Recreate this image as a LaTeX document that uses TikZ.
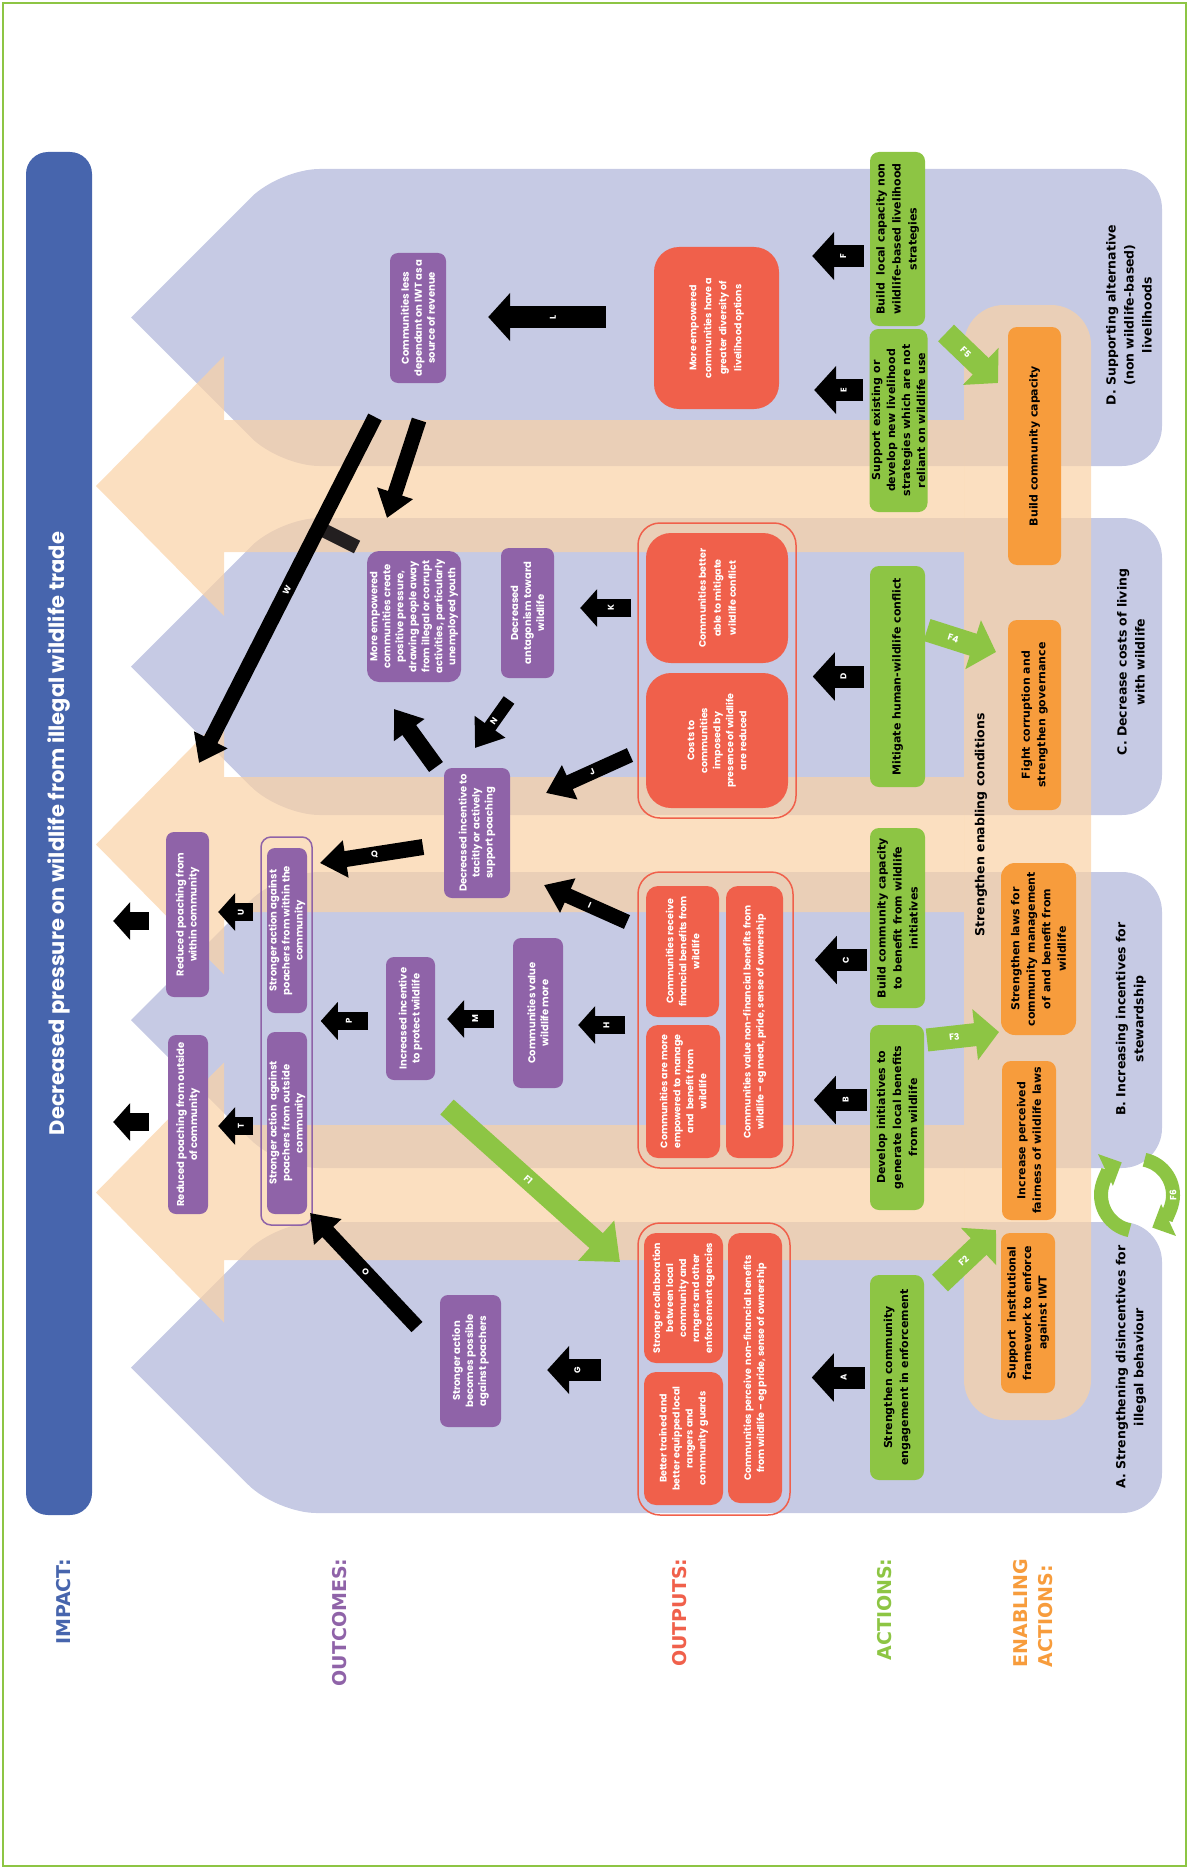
\documentclass[tikz,border=0pt]{standalone}
\usepackage{fontspec}
\setmainfont{Poppins}
\newfontfamily\djv{DejaVu Sans}
\usetikzlibrary{arrows.meta,calc}
\definecolor{bl}{RGB}{71,101,173}
\definecolor{oc}{RGB}{143,99,168}
\definecolor{op}{RGB}{240,96,75}
\definecolor{ac}{RGB}{141,197,68}
\definecolor{en}{RGB}{247,156,60}
\definecolor{lav}{RGB}{198,202,228}
\definecolor{pch}{RGB}{250,210,165}
\definecolor{tbar}{RGB}{35,31,32}
\begin{document}
\begin{tikzpicture}[x=1pt,y=-1pt,
  ocbox/.style={rotate=90, fill=oc, rounded corners=8pt, align=center, text=white, inner sep=1pt, font=\bfseries\fontsize{10}{13}\selectfont},
  opbox/.style={rotate=90, fill=op, rounded corners=12pt, align=center, text=white, inner sep=1pt, font=\bfseries\fontsize{9.5}{13}\selectfont},
  acbox/.style={rotate=90, fill=ac, rounded corners=9pt, align=center, inner sep=1pt, font=\djv\bfseries\fontsize{11}{16}\selectfont},
  enbox/.style={rotate=90, fill=en, rounded corners=9pt, align=center, inner sep=1pt, font=\djv\bfseries\fontsize{11}{15.5}\selectfont},
  grp/.style={rounded corners=22pt, line width=1.5pt},
  strat/.style={rotate=90, align=center, font=\djv\bfseries\fontsize{12.5}{18}\selectfont},
  collab/.style={rotate=90, anchor=east, align=left, font=\djv\bfseries\fontsize{19}{25}\selectfont},
  bigarr/.style={line width=22pt, -{Triangle[width=47pt,length=22pt]}},
  smlarr/.style={line width=18pt, -{Triangle[width=37pt,length=17pt]}},
  diagarr/.style={line width=15pt, -{Triangle[width=36pt,length=26pt]}},
  grnarr/.style={ac, line width=23pt, -{Triangle[width=50pt,length=24pt]}},
  lbl/.style={text=white, font=\bfseries\fontsize{8.5}{8.5}\selectfont, inner sep=0pt},
  glbl/.style={lbl, sloped, font=\bfseries\fontsize{9}{9}\selectfont}]
\useasboundingbox (0,0) rectangle (1189,1870);
\draw[ac, line width=2.5pt] (3,3) rectangle (1186,1866);
\foreach \t/\b in {169/466, 518/815, 872/1168, 1222/1513}{
  \pgfmathsetmacro\c{(\t+\b)/2}
  \pgfmathsetmacro\k{131+(\b-\t)/2}
  \fill[lav] (131,\c) [rounded corners=40pt] -- (\k,\t) -- (1162,\t) -- (1162,\b) -- (\k,\b) [sharp corners] -- cycle;
}
\begin{scope}[fill opacity=0.7]
\foreach \t/\b in {420/552, 777/912, 1125/1260}{
  \pgfmathsetmacro\c{(\t+\b)/2}
  \fill[pch] (96,\c) -- (224,\c-130) -- (224,\t) -- (964,\t) -- (964,\b) -- (224,\b) -- (224,\c+130) -- cycle;
}
\fill[pch, rounded corners=40pt] (964,305) rectangle (1091,1420);
\end{scope}
\node[fill=bl, rotate=90, rounded corners=22pt, minimum width=1363pt, minimum height=66pt, text=white, font=\bfseries\fontsize{21}{21}\selectfont] (impact) at (59,833.5) {Decreased pressure on wildlife from illegal wildlife trade};
\node[collab, text=bl] (lab-imp) at (64,1555) {IMPACT:};
\node[collab, text=oc] (lab-oc) at (340,1555) {OUTCOMES:};
\node[collab, text=op] (lab-op) at (680,1555) {OUTPUTS:};
\node[collab, text=ac] (lab-ac) at (885,1555) {ACTIONS:};
\node[collab, text=en] (lab-en) at (1033.5,1555) {ENABLING\\ACTIONS:};

\node[ocbox, minimum width=130pt, minimum height=56pt] (oc-rev) at (418,318) {Communities less\\dependant on IWT as a\\source of revenue};
\node[ocbox, rounded corners=12pt, minimum width=131pt, minimum height=94pt] (oc-emp) at (414,616.5) {More empowered\\communities create\\positive pressure,\\drawing people away\\from illegal or corrupt\\activities, particularly\\unemployed youth};
\node[ocbox, minimum width=130pt, minimum height=53pt] (oc-ant) at (527.5,613) {Decreased\\antagonism toward\\wildlife};
\node[ocbox, minimum width=130pt, minimum height=66pt] (oc-inc) at (477,833) {Decreased incentive to\\tacitly or actively\\support poaching};
\node[ocbox, minimum width=165pt, minimum height=43pt] (oc-within) at (187.5,914.5) {Reduced poaching from\\within community};
\node[ocbox, minimum width=179pt, minimum height=40pt] (oc-outside) at (188,1124.5) {Reduced poaching from outside\\of community};
\node[draw=oc, grp, rounded corners=10pt, minimum width=51pt, minimum height=388pt] (grp-act) at (286.5,1031) {};
\node[ocbox, minimum width=165pt, minimum height=40pt] (oc-act-in) at (287,930.5) {Stronger action against\\poachers from within the\\community};
\node[ocbox, minimum width=182pt, minimum height=40pt] (oc-act-out) at (287,1123) {Stronger action\ \ against\\poachers from outside\\community};
\node[ocbox, minimum width=123pt, minimum height=49pt] (oc-protect) at (410.5,1018.5) {Increased incentive\\to protect wildlife};
\node[ocbox, minimum width=150pt, minimum height=50pt] (oc-value) at (538,1013) {Communities value\\wildlife more};
\node[ocbox, minimum width=132pt, minimum height=61pt] (oc-possible) at (470.5,1361) {Stronger action\\becomes possible\\against poachers};

\node[opbox, rounded corners=25pt, minimum width=162pt, minimum height=125pt, font=\bfseries\fontsize{9.5}{15}\selectfont] (op-div) at (716.5,328) {More empowered\\communities have a\\greater diversity of\\livelihood options};
\node[draw=op, grp, minimum width=158pt, minimum height=295pt] (grp-c) at (717,670.5) {};
\node[opbox, rounded corners=25pt, minimum width=130pt, minimum height=142pt, font=\bfseries\fontsize{9.5}{15}\selectfont] (op-mit) at (717,598) {Communities better\\able to mitigate\\wildlife conflict};
\node[opbox, rounded corners=25pt, minimum width=135pt, minimum height=142pt] (op-cost) at (717,740.5) {Costs to\\communities\\imposed by\\presence of wildlife\\are reduced};
\node[draw=op, grp, minimum width=155pt, minimum height=296pt] (grp-b) at (715.5,1020) {};
\node[opbox, minimum width=131pt, minimum height=73pt] (op-fin) at (682.5,951.5) {Communities receive\\financial benefits from\\wildlife};
\node[opbox, minimum width=133pt, minimum height=74pt] (op-man) at (683,1091.5) {Communities are more\\empowered to manage\\and\ \ benefit from\\wildlife};
\node[opbox, minimum width=272pt, minimum height=57pt] (op-nonfin) at (754.5,1022) {Communities value non-financial benefits from\\wildlife – eg meat, pride, sense of ownership};
\node[draw=op, grp, minimum width=152pt, minimum height=292pt] (grp-a) at (714,1369) {};
\node[opbox, minimum width=130pt, minimum height=79pt] (op-collab) at (683.5,1298) {Stronger collaboration\\between local\\community and\\rangers and other\\enforcement agencies};
\node[opbox, minimum width=133pt, minimum height=79pt] (op-ranger) at (683.5,1438.5) {Better trained and\\better equipped local\\rangers and\\community guards};
\node[opbox, minimum width=270pt, minimum height=54pt] (op-perceive) at (755,1368) {Communities perceive\ \ non-financial benefits\\from wildlife – eg pride, sense of ownership};

\node[acbox, minimum width=174pt, minimum height=55pt] (ac-f) at (897.5,239) {Build\ \ local capacity non\\wildlife-based livelihood\\strategies};
\node[acbox, minimum width=183pt, minimum height=58pt, font=\djv\bfseries\fontsize{11}{15}\selectfont] (ac-e) at (898.5,420.5) {Support existing or\\develop new livelihood\\strategies which are not\\reliant on wildlife use};
\node[acbox, minimum width=221pt, minimum height=55pt] (ac-d) at (897.5,676.5) {Mitigate human-wildlife conflict};
\node[acbox, minimum width=180pt, minimum height=55pt] (ac-c) at (897.5,918) {Build community capacity\\to benefit from wildlife\\initiatives};
\node[acbox, minimum width=185pt, minimum height=54pt] (ac-b) at (897,1117.5) {Develop initiatives to\\generate local benefits\\from wildlife};
\node[acbox, minimum width=205pt, minimum height=54pt] (ac-a) at (897,1377.5) {Strengthen community\\engagement in enforcement};

\node[enbox, minimum width=238pt, minimum height=53pt] (en-cap) at (1034.5,446) {Build community capacity};
\node[enbox, minimum width=190pt, minimum height=53pt] (en-gov) at (1034.5,715) {Fight corruption and\\strengthen governance};
\node[enbox, rounded corners=14pt, minimum width=172pt, minimum height=75pt] (en-laws) at (1038.5,949) {Strengthen laws for\\community management\\of and benefit from\\wildlife};
\node[enbox, minimum width=159pt, minimum height=54pt] (en-fair) at (1029,1140.5) {Increase perceived\\fairness of wildlife laws};
\node[enbox, minimum width=160pt, minimum height=54pt] (en-inst) at (1028,1313) {Support\ \ institutional\\framework to enforce\\against IWT};

\node[strat] (st-d) at (1129,315) {D. Supporting alternative\\(non wildlife-based)\\livelihoods};
\node[strat] (st-c) at (1131,662) {C. Decrease costs of living\\with wildlife};
\node[strat] (st-b) at (1131,1019) {B. Increasing incentives for\\stewardship};
\node[strat] (st-a) at (1131,1367) {A. Strengthening disincentives for\\illegal behaviour};
\node[strat] (st-en) at (981,825) {Strengthen enabling conditions};

\draw[bigarr] ($(ac-a.north)+(-5,0)$) -- node[lbl,rotate=90,pos=.4]{A} ($(ac-a.north -| grp-a.east)+(21,0)$);
\draw[bigarr] ($(ac-b.north)+(-3,-17.5)$) -- node[lbl,rotate=90,pos=.4]{B} ($(ac-b.north -| grp-b.east)+(20,-17.5)$);
\draw[bigarr] ($(ac-c.north)+(-3,42)$) -- node[lbl,rotate=90,pos=.4]{C} ($(ac-c.north -| grp-b.east)+(21,42)$);
\draw[bigarr] ($(ac-d.north)+(-6,0)$) -- node[lbl,rotate=90,pos=.4]{D} ($(ac-d.north -| grp-c.east)+(16,0)$);
\draw[bigarr] ($(ac-e.north)+(-6,-30.5)$) -- node[lbl,rotate=90,pos=.4]{E} ($(ac-e.north -| op-div.south)+(35,-30.5)$);
\draw[bigarr] ($(ac-f.north)+(-6,17)$) -- node[lbl,rotate=90,pos=.4]{F} ($(ac-f.north -| op-div.south)+(33,17)$);
\draw[bigarr] ($(grp-a.west)+(-36,1)$) -- node[lbl,rotate=90,pos=.44]{G} ($(grp-a.west -| oc-possible.south)+(46,1)$);
\draw[smlarr] ($(grp-b.west)+(-12,5)$) -- node[lbl,rotate=90,pos=.4]{H} ($(grp-b.west -| oc-value.south)+(15,5)$);
\draw[smlarr] ($(grp-c.west)+(-6,-62.5)$) -- node[lbl,rotate=90,pos=.4]{K} ($(grp-c.west -| oc-ant.south)+(26,-62.5)$);
\draw[bigarr] ($(op-div.north)+(-48,-11)$) -- node[lbl,rotate=90,pos=.45]{L} ($(oc-rev.south)+(42,-1)$);
\draw[smlarr] ($(oc-value.north)+(-19,6)$) -- node[lbl,rotate=90,pos=.4]{M} ($(oc-protect.south)+(12,0.5)$);
\draw[smlarr] ($(oc-protect.north)+(-18,2.5)$) -- node[lbl,rotate=90,pos=.4]{P} ($(oc-protect.north -| grp-act.east)+(8,2.5)$);
\draw[smlarr] ($(grp-act.west |- oc-act-out)+(-7,3)$) -- node[lbl,rotate=90,pos=.35]{T} ($(oc-outside.south)+(10,1.5)$);
\draw[smlarr] ($(grp-act.west |- oc-act-in)+(-7,-18.5)$) -- node[lbl,rotate=90,pos=.35]{U} ($(oc-within.south)+(9,-2.5)$);
\draw[smlarr] ($(oc-within.north)+(-17,6.5)$) -- ($(oc-within.north -| impact.south)+(21,6.5)$);
\draw[smlarr] ($(oc-outside.north)+(-19,-2.5)$) -- ($(oc-outside.north -| impact.south)+(21,-2.5)$);

\draw[diagarr] ($(op-fin)+(-55.5,-29.5)$) -- node[lbl,sloped,pos=.45]{I} ($(oc-inc)+(67,52)$);
\draw[diagarr] ($(op-cost)+(-87,14.5)$) -- node[lbl,sloped,pos=.45]{J} ($(oc-inc)+(69,-40)$);
\draw[diagarr, line width=13pt] ($(oc-ant)+(-18.5,87)$) -- node[lbl,sloped,pos=.45]{N} ($(oc-inc)+(-2,-85)$);
\draw[diagarr, line width=16pt] ($(oc-inc)+(-54,14)$) -- node[lbl,sloped,pos=.47]{Q} ($(grp-act)+(33.5,-168)$);
\draw[diagarr, line width=17pt] ($(oc-inc)+(-41,-66)$) -- ($(oc-emp)+(-20,92.5)$);
\draw[diagarr] ($(oc-rev)+(1,102)$) -- ($(oc-emp)+(-27,-98.5)$);
\draw[tbar, line width=14pt] ($(oc-rev)+(-101,209)$) -- ($(oc-rev)+(-61,229)$);
\draw[diagarr] ($(oc-rev)+(-43,99)$) -- node[lbl,sloped,pos=.5]{W} ($(oc-within)+(11.5,-151.5)$);
\draw[diagarr] ($(oc-possible)+(-53.5,-34)$) -- node[lbl,sloped,pos=.48]{O} ($(grp-act)+(23.5,182)$);

\draw[grnarr, line width=20pt, -{Triangle[width=52pt,length=32pt]}] ($(oc-protect)+(36.5,88.5)$) -- node[glbl,pos=.47]{F1} ($(grp-a)+(-94,-107)$);
\draw[grnarr] ($(ac-a)+(43,-94.5)$) -- node[glbl,pos=.42]{F2} ($(en-inst)+(-32,-83)$);
\draw[grnarr] ($(ac-b)+(30,-77.5)$) -- node[glbl,pos=.38]{F3} ($(en-laws)+(-39.5,83)$);
\draw[grnarr] ($(ac-d)+(29.5,-46.5)$) -- node[glbl,pos=.38]{F4} ($(en-gov)+(-38.5,-63)$);
\draw[grnarr] ($(ac-e)+(47.5,-87.5)$) -- node[glbl,pos=.38]{F5} ($(en-cap)+(-36.5,-63)$);
\coordinate (f6c) at (1137,1195);
\draw[ac, line width=14pt, -{Triangle[width=34pt,length=18pt]}] ($(f6c)+(258:36pt)$) arc[start angle=258, end angle=115, radius=36pt];
\draw[ac, line width=14pt, -{Triangle[width=34pt,length=18pt]}] ($(f6c)+(78:36pt)$) arc[start angle=78, end angle=-65, radius=36pt];
\node[lbl, rotate=90, font=\bfseries\fontsize{9}{9}\selectfont] (f6) at ($(f6c)+(36,0)$) {F6};
\end{tikzpicture}
\end{document}
